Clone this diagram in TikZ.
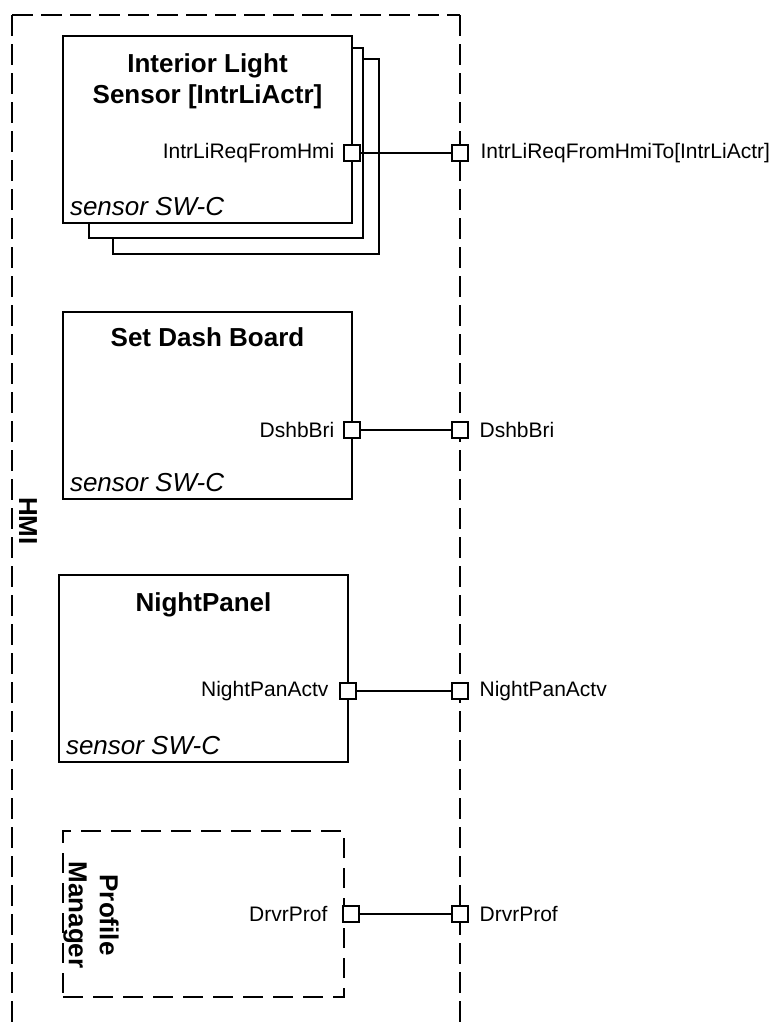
\documentclass[tikz,border=0pt]{standalone}
\usepackage{fontspec}
\setmainfont{Liberation Sans}
\usetikzlibrary{positioning,fit}

\begin{document}
\begin{tikzpicture}[
      x=1pt,
      y=-1pt,
      line width=2.6pt,
      comp/.style={
        draw,
        fill=white,
        inner sep=0pt
      },
      ghostcomp/.style={
        comp,
        dash pattern=on 20pt off 10pt
      },
      portbox/.style={
        draw,
        fill=white,
        minimum size=16pt,
        inner sep=0pt
      },
      comptitle/.style={
        font=\fontsize{26}{31}\selectfont\bfseries,
        align=center,
        anchor=base,
        inner sep=0pt
      },
      swctype/.style={
        font=\fontsize{26}{31}\selectfont\itshape,
        anchor=south west,
        inner sep=7pt
      },
      portlabel/.style={
        font=\fontsize{21}{25}\selectfont,
        inner sep=0pt
      },
      hmiline/.style={dash pattern=on 21pt off 8pt}
    ]
      \useasboundingbox (0,0) rectangle (778,1023);

      % HMI Rahmen
      \draw [hmiline] (12,15) -- (460,15);
      \draw [hmiline] (12,15) -- (12,1040);
      \draw [hmiline] (460,15) -- (460,1040);
      \node [comptitle, anchor=center, rotate=-90] (hmi) at (28,521) {HMI};

      % Interior Light Sensor
      \node [comp, fit={(113,59) (379,254)}] (ils3) {};
      \node [comp, fit={(89,48) (363,238)}] (ils2) {};
      \node [comp, fit={(63,36) (352,223)}] (ils) {};
      \node [comptitle] (ilsname) at ([yshift=-69pt]ils.north) {Interior Light\\Sensor [IntrLiActr]};
      \node [swctype] (ilstype) at (ils.south west) {sensor SW-C};
      \node [portbox] (ilsport) at (352,153) {};
      \node [portlabel, left=7pt of ilsport] (ilsportname) {IntrLiReqFromHmi};

      % Set Dash Board
      \node [comp, fit={(63,312) (352,499)}] (sdb) {};
      \node [comptitle] (sdbname) at ([yshift=-36pt]sdb.north) {Set Dash Board};
      \node [swctype] (sdbtype) at (sdb.south west) {sensor SW-C};
      \node [portbox] (sdbport) at (352,430) {};
      \node [portlabel, left=7pt of sdbport] (sdbportname) {DshbBri};

      % NightPanel
      \node [comp, fit={(59,575) (348,762)}] (np) {};
      \node [comptitle] (npname) at ([yshift=-38pt]np.north) {NightPanel};
      \node [swctype] (nptype) at (np.south west) {sensor SW-C};
      \node [portbox] (npport) at (348,691) {};
      \node [portlabel, left=9pt of npport] (npportname) {NightPanActv};

      % Profile Manager
      \node [ghostcomp, fit={(63,831) (344,997)}] (pm) {};
      \node [comptitle, anchor=center, rotate=-90] (pmname) at (91,915) {Profile\\Manager};
      \node [portbox] (pmport) at (351,914) {};
      \node [portlabel, left=13pt of pmport] (pmportname) {DrvrProf};

      % HMI Ports
      \node [portbox] (hmiport1) at (460,153) {};
      \node [portbox] (hmiport2) at (460,430) {};
      \node [portbox] (hmiport3) at (460,691) {};
      \node [portbox] (hmiport4) at (460,914) {};
      \node [portlabel, right=10pt of hmiport1] (hmiportname1) {IntrLiReqFromHmiTo[IntrLiActr]};
      \node [portlabel, right=9pt of hmiport2] (hmiportname2) {DshbBri};
      \node [portlabel, right=9pt of hmiport3] (hmiportname3) {NightPanActv};
      \node [portlabel, right=9pt of hmiport4] (hmiportname4) {DrvrProf};

      % Verbindungen
      \draw (ilsport) -- (hmiport1);
      \draw (sdbport) -- (hmiport2);
      \draw (npport) -- (hmiport3);
      \draw (pmport) -- (hmiport4);
    \end{tikzpicture}
\end{document}
